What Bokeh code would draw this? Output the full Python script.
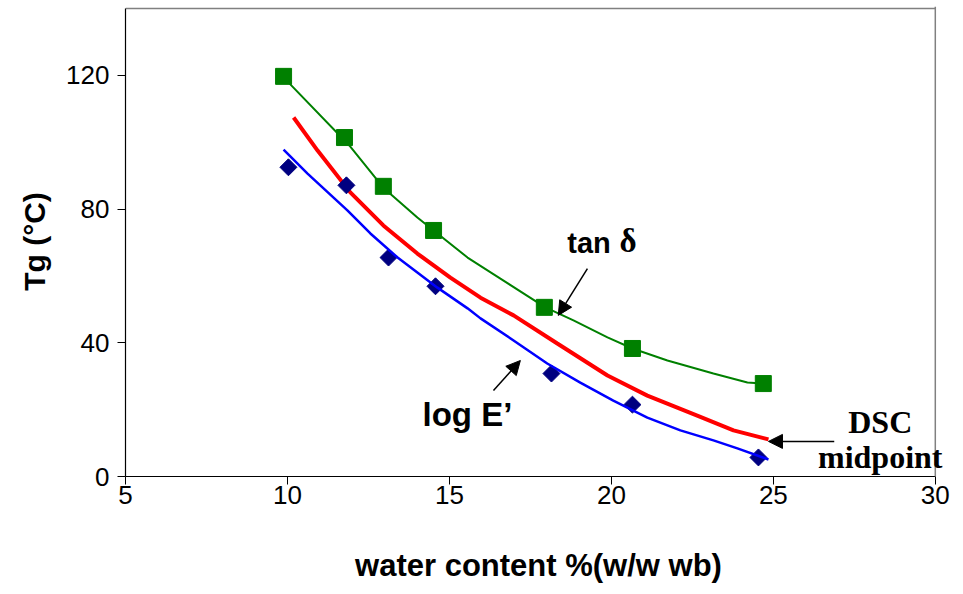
import numpy as np
from bokeh.plotting import figure
from bokeh.models import Range1d, FixedTicker, Arrow, NormalHead, Label, Span
from bokeh.embed import file_html
from bokeh.resources import INLINE

# measured points
tan_x = [9.88, 11.76, 12.96, 14.51, 17.93, 20.65, 24.69]
tan_y = [119.7, 101.4, 86.8, 73.6, 50.6, 38.3, 27.8]
loge_x = [10.03, 11.82, 13.12, 14.57, 18.15, 20.65, 24.54]
loge_y = [92.5, 87.1, 65.5, 56.9, 30.8, 21.5, 5.7]

# fitted curves
tan_fit_x = [9.88, 11.94, 12.96, 14.01, 15.56, 16.67, 17.96, 18.83, 19.88, 20.65, 21.73, 23.15, 24.20, 24.66]
tan_fit_y = [119.4, 98.7, 86.4, 77.5, 65.5, 58.6, 50.6, 46.7, 41.6, 38.3, 34.7, 30.8, 28.1, 27.8]
dsc_x = [10.19, 10.93, 11.94, 12.96, 14.01, 15.03, 15.96, 16.98, 18.33, 19.88, 21.11, 22.65, 23.77, 24.85]
dsc_y = [107.4, 97.5, 85.0, 75.1, 66.7, 59.5, 53.5, 48.2, 39.8, 30.2, 24.2, 18.2, 13.8, 11.1]
loge_fit_x = [9.88, 10.62, 11.85, 12.56, 13.40, 14.63, 15.56, 15.96, 16.98, 18.02, 19.04, 20.06, 21.11, 22.13, 23.15, 23.89, 24.85]
loge_fit_y = [97.8, 90.6, 79.6, 72.7, 65.5, 56.5, 50.3, 47.3, 40.7, 33.8, 28.1, 22.7, 17.6, 13.8, 10.8, 8.4, 5.1]

x_ticks = [5, 10, 15, 20, 25, 30]
y_ticks = [0, 40, 80, 120]
x_min, x_max = 5, 30
y_min, y_max = 0, 140

# annotations (data coordinates, bottom of text box)
tan_label = (18.64, 65.2)
delta_label = (20.25, 65.2)
tan_arrow = (19.26, 62.2, 18.36, 48.2)
loge_label = (14.17, 13.0)
loge_arrow = (16.36, 25.7, 17.19, 34.7)
dsc_label = (28.30, 10.8)
mid_label = (28.30, 0.5)
dsc_arrow = (26.88, 10.5, 24.85, 10.5)

p = figure(width=955, height=586, output_backend="svg", toolbar_location=None,
           x_range=Range1d(5, 30.5), y_range=Range1d(0, 140.6),
           min_border_left=125, min_border_right=4, min_border_top=6, min_border_bottom=110)
p.background_fill_color = "white"
p.border_fill_color = "white"
p.outline_line_color = None
p.grid.visible = False

for ax in (p.xaxis[0], p.yaxis[0]):
    ax.axis_line_color = "black"
    ax.axis_line_width = 1.2
    ax.major_tick_line_color = "black"
    ax.major_tick_out = 8
    ax.major_tick_in = 0
    ax.minor_tick_line_color = None
    ax.major_label_text_font = "Liberation Sans"
    ax.major_label_text_font_size = "26px"
    ax.major_label_text_color = "black"
    ax.axis_label_text_font = "Liberation Sans"
    ax.axis_label_text_font_style = "bold"
    ax.axis_label_text_color = "black"

p.xaxis.bounds = (x_min, x_max)
p.yaxis.bounds = (y_min, y_max)
p.xaxis.ticker = FixedTicker(ticks=x_ticks)
p.yaxis.ticker = FixedTicker(ticks=y_ticks)
p.xaxis.major_label_standoff = 1
p.yaxis.major_label_standoff = 8
p.xaxis.axis_label = "water content %(w/w wb)"
p.yaxis.axis_label = "Tg (°C)"
p.xaxis.axis_label_text_font_size = "31px"
p.yaxis.axis_label_text_font_size = "30px"
p.xaxis.axis_label_standoff = 41
p.yaxis.axis_label_standoff = 12

# gray frame on top and right
p.add_layout(Span(location=x_max, dimension="height", line_color="#808080", line_width=1.5))
p.segment(x0=[x_min], y0=[y_max], x1=[x_max], y1=[y_max], line_color="#808080", line_width=1.5)

p.line(tan_fit_x, tan_fit_y, line_color="#008000", line_width=2)
p.line(dsc_x, dsc_y, line_color="#FF0000", line_width=4)
p.scatter(tan_x, tan_y, marker="square", size=16, fill_color="#008000", line_color="#008000")
p.scatter(loge_x, loge_y, marker="square", size=12, angle=np.pi / 4,
          fill_color="#000080", line_color="#000080")
p.line(loge_fit_x, loge_fit_y, line_color="#0000FF", line_width=2.5)

for (x0, y0, x1, y1) in (tan_arrow, loge_arrow, dsc_arrow):
    p.add_layout(Arrow(x_start=x0, y_start=y0, x_end=x1, y_end=y1, line_color="black", line_width=1.5,
                       end=NormalHead(size=14, fill_color="black", line_color="black")))

common = dict(text_font_style="bold", text_color="black")
p.add_layout(Label(x=tan_label[0], y=tan_label[1], text="tan", text_font="Liberation Sans",
                   text_font_size="29px", **common))
p.add_layout(Label(x=delta_label[0], y=delta_label[1], text="δ", text_font="Liberation Serif",
                   text_font_size="33px", **common))
p.add_layout(Label(x=loge_label[0], y=loge_label[1], text="log E’", text_font="Liberation Sans",
                   text_font_size="33px", **common))
p.add_layout(Label(x=dsc_label[0], y=dsc_label[1], text="DSC", text_font="Liberation Serif",
                   text_font_size="32px", text_align="center", **common))
p.add_layout(Label(x=mid_label[0], y=mid_label[1], text="midpoint", text_font="Liberation Serif",
                   text_font_size="32px", text_align="center", **common))

open("out.html", "w").write(file_html(p, INLINE))
